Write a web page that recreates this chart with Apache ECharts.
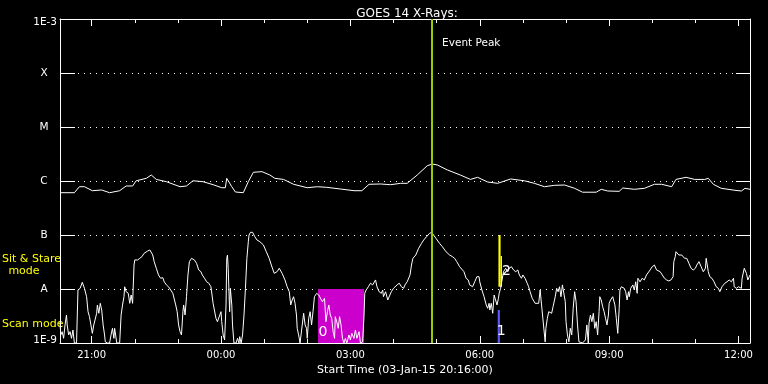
<!DOCTYPE html>
<html><head><meta charset="utf-8">
<script src="https://cdn.jsdelivr.net/npm/echarts@6/dist/echarts.min.js"></script>
<style>html,body{margin:0;padding:0;background:#000;}#c{width:768px;height:384px;}</style>
</head><body><div id="c"></div>
<script>
// ---- data ----
const chartTitle = 'GOES 14 X-Rays:';
const startLabel = 'Start Time (03-Jan-15 20:16:00)';
const startHour = 20 + 16 / 60;          // 03-Jan-15 20:16
const spanHours = 16;
const majorHours = [21, 24, 27, 30, 33, 36];
const minorHours = [21,22,23,24,25,26,27,28,29,30,31,32,33,34,35,36];
const levelExponents = [-9, -8, -7, -6, -5, -4, -3];
const levelNames = ['1E-9', 'A', 'B', 'C', 'M', 'X', '1E-3'];

// long channel (1-8 A): [minutes after start, flux W/m2]
const longChannel = [[0,6.07e-7],[20,6.07e-7],[27,7.84e-7],[34,7.84e-7],[45,6.61e-7],[58,6.81e-7],[69,6.07e-7],[83,6.61e-7],[92,8.08e-7],[101,8.08e-7],
[106,1.01e-6],[120,1.12e-6],[127,1.29e-6],[134,1.07e-6],[148,9.71e-7],[167,7.84e-7],[176,8.08e-7],[185,1.01e-6],[199,9.71e-7],[213,8.54e-7],
[225,7.51e-7],[230,7.51e-7],[232,1.12e-6],[239,7.84e-7],[244,6.26e-7],[255,6.07e-7],[262,9.71e-7],[269,1.45e-6],[281,1.49e-6],[292,1.29e-6],[299,1.12e-6],
[311,1.07e-6],[325,8.69e-7],[344,7.51e-7],[358,7.84e-7],[371,7.64e-7],[390,7.11e-7],[409,6.61e-7],[420,6.61e-7],[430,8.69e-7],[446,8.80e-7],
[460,8.54e-7],[474,9.06e-7],[483,9.06e-7],[497,1.29e-6],[511,1.92e-6],[518,2.06e-6],[525,1.98e-6],[539,1.60e-6],[557,1.29e-6],[571,1.07e-6],
[581,1.17e-6],[595,9.58e-7],[609,9.06e-7],[627,1.09e-6],[646,1.01e-6],[660,9.06e-7],[674,7.84e-7],[688,8.32e-7],[702,8.43e-7],[716,7.32e-7],
[727,6.2e-7],[746,6.2e-7],[753,7.02e-7],[762,6.53e-7],[778,6.44e-7],[783,7.42e-7],[799,7.02e-7],[813,7.32e-7],[827,8.69e-7],[837,8.69e-7],
[851,7.84e-7],[857,1.07e-6],[871,1.17e-6],[883,1.07e-6],[897,1.07e-6],[902,1.12e-6],[909,8.69e-7],[920,7.32e-7],[939,6.73e-7],[948,6.53e-7],
[953,7.32e-7],[960,7.02e-7]];

// short channel (0.5-4 A): [minutes after start, flux W/m2]
const shortChannel = [[0,2.48e-9],[1,1.41e-9],[3,1.62e-9],[5,1.22e-9],[7,2.16e-9],[9,3.3e-9],[10,2.16e-9],[12,1.41e-9],[14,1.62e-9],[16,1.22e-9],
[18,1.74e-9],[20,1e-9],[23,1e-9],[25,9.58e-9],[28,1.03e-8],[31,1.33e-8],[34,1.03e-8],[37,7.2e-9],[39,3.8e-9],[41,3.07e-9],
[43,2.16e-9],[45,1.51e-9],[47,2.16e-9],[49,2.32e-9],[51,3.55e-9],[52,5.06e-9],[54,3.55e-9],[56,5.43e-9],[58,4.08e-9],[60,2.16e-9],
[62,1.41e-9],[63,1.05e-9],[66,1e-9],[69,1e-9],[71,1.41e-9],[73,1.87e-9],[75,1.22e-9],[76,1.87e-9],[79,1e-9],[83,1e-9],
[85,3.3e-9],[87,5.06e-9],[89,7.2e-9],[90,1.1e-8],[92,8.91e-9],[95,8.31e-9],[97,5.43e-9],[99,7.74e-9],[101,5.43e-9],[103,2.78e-8],
[104,3.45e-8],[108,3.45e-8],[111,3.7e-8],[114,3.97e-8],[117,4.58e-8],[119,4.26e-8],[122,5.06e-8],[125,5.28e-8],[127,5.51e-8],[129,4.26e-8],
[131,3.21e-8],[134,2.42e-8],[137,1.82e-8],[140,1.58e-8],[143,1.62e-8],[145,1.36e-8],[148,1.19e-8],[151,1.1e-8],[154,9.58e-9],[157,8.31e-9],
[159,7.74e-9],[161,5.06e-9],[163,3.8e-9],[165,2.16e-9],[167,1.62e-9],[169,1.41e-9],[171,3.8e-9],[172,5.06e-9],[174,3.3e-9],[176,7.2e-9],
[178,1.82e-8],[180,3.21e-8],[183,3.7e-8],[184,3.97e-8],[187,3.45e-8],[190,2.99e-8],[193,2.25e-8],[196,2.09e-8],[198,1.82e-8],[201,1.58e-8],
[204,1.36e-8],[207,1.28e-8],[210,1.1e-8],[211,1.19e-8],[213,5.43e-9],[215,5.06e-9],[217,2.86e-9],[219,2.48e-9],[221,2.67e-9],[224,3.8e-9],
[225,2.48e-9],[227,1.41e-9],[229,1.14e-9],[231,5.06e-9],[232,3.7e-8],[233,4.26e-8],[234,2.42e-8],[236,3.8e-9],[237,1.03e-8],[239,5.06e-9],
[240,2.16e-9],[242,1e-9],[245,1e-9],[247,1.22e-9],[249,1e-9],[250,1.31e-9],[252,1e-9],[254,1.41e-9],[256,3.3e-9],[258,1.03e-8],
[260,3.7e-8],[262,7.52e-8],[263,1e-7],[265,1.12e-7],[268,1.12e-7],[271,9.31e-8],[274,8.08e-8],[278,7.52e-8],[283,6.53e-8],[287,4.91e-8],
[291,3.7e-8],[294,2.78e-8],[298,1.95e-8],[302,2.09e-8],[305,2.42e-8],[309,1.95e-8],[313,1.47e-8],[316,1.1e-8],[319,8.91e-9],[321,5.06e-9],
[323,6.26e-9],[325,7.2e-9],[327,5.43e-9],[329,3.3e-9],[330,1.87e-9],[332,1.41e-9],[334,1e-9],[337,2.16e-9],[339,3.55e-9],[341,2.16e-9],
[343,1.87e-9],[344,1.22e-9],[346,2.86e-9],[348,3.8e-9],[350,2.16e-9],[352,3.8e-9],[354,7.2e-9],[357,8.31e-9],[360,7.74e-9],[362,8.31e-9],
[365,5.82e-9],[368,6.72e-9],[370,2.48e-9],[372,3.8e-9],[374,5.06e-9],[376,3.3e-9],[378,2.86e-9],[380,1.62e-9],[382,1.22e-9],[383,3.07e-9],
[385,2.48e-9],[387,1.87e-9],[389,3.07e-9],[391,2.16e-9],[393,1.22e-9],[395,1e-9],[397,1.22e-9],[399,1e-9],[402,1.41e-9],[404,1.14e-9],
[406,1.51e-9],[409,1.22e-9],[411,1.74e-9],[413,1.22e-9],[416,1.62e-9],[418,1e-9],[421,1.05e-9],[423,3.3e-9],[424,8.31e-9],[426,9.58e-9],
[429,1.1e-8],[432,1.28e-8],[435,1.19e-8],[437,1.28e-8],[439,1.47e-8],[441,1.1e-8],[444,8.91e-9],[447,8.31e-9],[449,9.58e-9],[450,7.2e-9],
[453,8.91e-9],[456,6.26e-9],[459,7.74e-9],[461,8.91e-9],[464,1.03e-8],[466,1.1e-8],[469,1.19e-8],[472,1.28e-8],[475,1.1e-8],[476,1.19e-8],
[478,1.03e-8],[480,1.19e-8],[483,1.36e-8],[485,1.36e-8],[487,1.82e-8],[489,2.78e-8],[491,3.7e-8],[495,4.26e-8],[499,5.67e-8],[503,7.02e-8],
[506,8.08e-8],[510,9.31e-8],[514,1.07e-7],[517,1.12e-7],[519,1.03e-7],[523,8.68e-8],[528,7.02e-8],[532,6.07e-8],[537,4.91e-8],[542,4.26e-8],
[546,3.97e-8],[549,3.7e-8],[552,3.21e-8],[556,2.59e-8],[558,2.42e-8],[562,2.09e-8],[565,1.58e-8],[568,1.47e-8],[570,1.19e-8],[572,1.28e-8],
[574,1.1e-8],[577,1.36e-8],[580,1.69e-8],[583,1.69e-8],[584,1.36e-8],[587,9.58e-9],[590,7.2e-9],[593,5.06e-9],[595,4.39e-9],[597,5.43e-9],
[598,4.08e-9],[600,5.43e-9],[602,3.55e-9],[604,7.74e-9],[606,6.26e-9],[608,5.06e-9],[610,6.72e-9],[611,8.31e-9],[613,1.03e-8],[615,1.47e-8],
[617,2.09e-8],[620,2.42e-8],[623,2.09e-8],[625,2.42e-8],[628,2.59e-8],[631,2.25e-8],[634,2.09e-8],[637,2.25e-8],[639,1.82e-8],[642,1.58e-8],
[644,1.82e-8],[647,1.58e-8],[650,1.28e-8],[652,1.1e-8],[654,8.91e-9],[657,6.72e-9],[661,5.43e-9],[663,5.06e-9],[666,5.43e-9],[668,9.58e-9],
[670,5.06e-9],[672,2.67e-9],[675,1.05e-9],[676,1.87e-9],[678,2.86e-9],[680,3.8e-9],[682,4.08e-9],[684,3.55e-9],[686,4.7e-9],[689,7.2e-9],
[691,1.03e-8],[693,8.91e-9],[695,1.1e-8],[697,7.2e-9],[699,1.19e-8],[701,1.1e-8],[703,5.82e-9],[704,2.48e-9],[706,1.41e-9],[708,1.05e-9],
[710,1.87e-9],[712,1.41e-9],[714,4.39e-9],[716,8.91e-9],[718,5.82e-9],[720,2.16e-9],[722,1.05e-9],[724,1e-9],[727,1e-9],[731,1.14e-9],
[733,2.16e-9],[735,1e-9],[736,2.32e-9],[738,3.3e-9],[740,2.48e-9],[742,3.55e-9],[744,1.87e-9],[746,2.48e-9],[748,1.41e-9],[750,3.8e-9],
[751,7.2e-9],[753,6.26e-9],[755,4.7e-9],[757,3.8e-9],[759,2.86e-9],[761,2.16e-9],[763,3.3e-9],[764,5.43e-9],[766,6.26e-9],[769,7.2e-9],
[772,5.06e-9],[774,2.86e-9],[776,1.51e-9],[778,4.39e-9],[779,9.58e-9],[781,1.1e-8],[783,1.19e-8],[785,1.03e-8],[787,8.91e-9],[789,6.26e-9],
[791,8.91e-9],[792,7.2e-9],[794,1.03e-8],[797,1.19e-8],[799,9.58e-9],[801,1.36e-8],[803,8.31e-9],[804,1.58e-8],[807,1.36e-8],[810,1.58e-8],
[813,1.47e-8],[816,1.82e-8],[818,1.95e-8],[821,2.25e-8],[824,2.59e-8],[827,2.78e-8],[830,2.25e-8],[832,2.42e-8],[835,2.09e-8],[838,1.82e-8],
[841,1.58e-8],[844,1.47e-8],[847,1.41e-8],[850,1.47e-8],[853,1.69e-8],[854,3.21e-8],[856,3.97e-8],[857,4.91e-8],[859,5.28e-8],[861,4.26e-8],
[865,4.26e-8],[869,3.7e-8],[872,3.7e-8],[875,2.99e-8],[878,2.42e-8],[881,2.25e-8],[884,2.42e-8],[886,2.78e-8],[889,3.21e-8],[892,2.59e-8],
[895,2.09e-8],[898,2.42e-8],[899,3.7e-8],[902,2.09e-8],[904,1.69e-8],[907,1.58e-8],[910,1.36e-8],[912,1.28e-8],[913,1.1e-8],[916,1.03e-8],
[918,8.91e-9],[921,1.1e-8],[923,1.03e-8],[925,1.28e-8],[928,1.36e-8],[931,1.47e-8],[934,1.36e-8],[937,1.58e-8],[938,1.1e-8],[941,1.03e-8],
[944,1.1e-8],[946,1.03e-8],[948,1.03e-8],[949,1.58e-8],[950,1.82e-8],[952,2.42e-8],[955,1.95e-8],[957,1.47e-8],[959,1.69e-8],[960,1.82e-8]];

// annotations (minutes after start, flux)
const peakMinute = 517;                 // 04:53 event peak
const peakLabel = 'Event Peak';
const peakLabelFlux = 3.6e-4;
const scanWindow = [359, 423, 1e-9, 1e-8];          // magenta block
const stareBars = [[610, 613, 1.1e-8, 1e-7], [613, 615, 1.1e-8, 4.08e-8]];
const scanBar = [609, 612, 1e-9, 4.08e-9];
const markerNumbers = [[366, 1.6e-9, '0'], [614, 1.67e-9, '1'], [621, 2.1e-8, '2']];
const modeLabels = ['Sit & Stare', 'mode', 'Scan mode'];

// ---- chart ----
const toHour = m => startHour + m / 60;
const font = 'DejaVu Sans';
const W = '#ffffff';
const chart = echarts.init(document.getElementById('c'), null, {renderer: 'canvas'});
const levelLabel = v => {
  const e = Math.round(Math.log10(v));
  const t = levelNames[levelExponents.indexOf(e)];
  if (e === -3) return '{t|' + t + '}';
  if (e === -9) return '{b|' + t + '}';
  return '{c|' + t + '}';
};
const hourLabel = v => String(Math.round(v) % 24).padStart(2, '0') + ':00';
const xBase = (pos, ticks, len, labels) => ({
  type: 'value', position: pos, min: startHour, max: startHour + spanHours,
  axisLine: {show: labels !== null, lineStyle: {color: W, width: 1}},
  axisTick: {show: true, inside: true, length: len, customValues: ticks, lineStyle: {color: W, width: 1}},
  axisLabel: labels ? {show: true, customValues: majorHours, formatter: hourLabel, color: W, fontFamily: font, fontSize: 10, margin: 7} : {show: false},
  splitLine: {show: false}
});
const xAxes = [
  Object.assign(xBase('bottom', majorHours, 7, true), {name: startLabel, nameLocation: 'middle', nameGap: 20,
    nameTextStyle: {color: W, fontFamily: font, fontSize: 11}}),
  xBase('bottom', minorHours, 4, undefined),
  xBase('top', majorHours, 7, false),
  xBase('top', minorHours, 4, undefined)
];
xAxes[1].axisLine.show = false; xAxes[3].axisLine.show = false;
xAxes[2].axisLine.show = true;

const option = {
  backgroundColor: '#000',
  animation: false,
  title: {text: chartTitle, left: 402, top: 3, textAlign: 'center',
    textStyle: {color: W, fontFamily: font, fontSize: 12, fontWeight: 'normal'}},
  grid: {left: 60, right: 18, top: 19, bottom: 41},
  xAxis: xAxes,
  yAxis: [
    {type: 'log', logBase: 10, min: 1e-9, max: 1e-3, interval: 1, position: 'left',
      axisLine: {show: true, lineStyle: {color: W, width: 1}},
      axisTick: {show: true, inside: true, length: 15, lineStyle: {color: W, width: 1}},
      axisLabel: {show: true, formatter: levelLabel, align: 'right', margin: 3, color: W, fontFamily: font, fontSize: 10.5,
        rich: {
          c: {width: 26, align: 'center', color: W, fontFamily: font, fontSize: 10.5},
          t: {color: W, fontFamily: font, fontSize: 10.5, padding: [7, 0, 0, 0]},
          b: {color: W, fontFamily: font, fontSize: 10.5, padding: [0, 0, 6, 0]}
        }},
      splitLine: {show: true, lineStyle: {color: W, width: 1, type: [1, 5]}}},
    {type: 'log', logBase: 10, min: 1e-9, max: 1e-3, interval: 1, position: 'right',
      axisLine: {show: true, lineStyle: {color: W, width: 1}},
      axisTick: {show: true, inside: true, length: 14, lineStyle: {color: W, width: 1}},
      axisLabel: {show: false}, splitLine: {show: false}}
  ],
  graphic: [
    {type: 'text', x: 2, y: 259, style: {text: modeLabels[0], fill: '#ffff00', font: '11px "DejaVu Sans"', verticalAlign: 'middle', align: 'left'}},
    {type: 'text', x: 24, y: 271, style: {text: modeLabels[1], fill: '#ffff00', font: '11px "DejaVu Sans"', verticalAlign: 'middle', align: 'center'}},
    {type: 'text', x: 2, y: 324, style: {text: modeLabels[2], fill: '#ffff00', font: '11px "DejaVu Sans"', verticalAlign: 'middle', align: 'left'}}
  ],
  series: [
    {type: 'line', name: 'scan', data: [], z: 1, silent: true,
      markArea: {silent: true, label: {show: false}, itemStyle: {color: '#cc00cc', opacity: 1},
        data: [[{xAxis: toHour(scanWindow[0]), yAxis: scanWindow[3]}, {xAxis: toHour(scanWindow[1]), yAxis: scanWindow[2]}]]}},
    {type: 'line', name: 'long', data: longChannel.map(p => [toHour(p[0]), p[1]]), z: 2, silent: true,
      showSymbol: false, symbol: 'none', lineStyle: {color: W, width: 1}, clip: true},
    {type: 'line', name: 'short', data: shortChannel.map(p => [toHour(p[0]), p[1]]), z: 2, silent: true,
      showSymbol: false, symbol: 'none', lineStyle: {color: W, width: 1}, clip: true},
    {type: 'line', name: 'marks', data: [], z: 5, silent: true,
      markArea: {silent: true, label: {show: false},
        data: stareBars.map(b => [{xAxis: toHour(b[0]), yAxis: b[3], itemStyle: {color: '#ffff00', opacity: 1}}, {xAxis: toHour(b[1]), yAxis: b[2]}])
          .concat([[{xAxis: toHour(scanBar[0]), yAxis: scanBar[3], itemStyle: {color: '#5a5aff', opacity: 1}}, {xAxis: toHour(scanBar[1]), yAxis: scanBar[2]}]])},
      markLine: {silent: true, symbol: ['none', 'none'], label: {show: false},
        lineStyle: {color: '#99cc00', width: 2, type: 'solid'}, data: [{xAxis: toHour(peakMinute)}]},
      markPoint: {silent: true, symbol: 'circle', symbolSize: 1, itemStyle: {color: 'rgba(0,0,0,0)'},
        data: [{coord: [toHour(peakMinute), peakLabelFlux], label: {show: true, formatter: peakLabel, position: 'right', distance: 10,
          color: W, fontFamily: font, fontSize: 10.5}}]
          .concat(markerNumbers.map(m => ({coord: [toHour(m[0]), m[1]], label: {show: true, formatter: m[2], position: 'inside',
            color: W, fontFamily: font, fontSize: 14}})))}}
  ]
};
chart.setOption(option);
</script></body></html>
